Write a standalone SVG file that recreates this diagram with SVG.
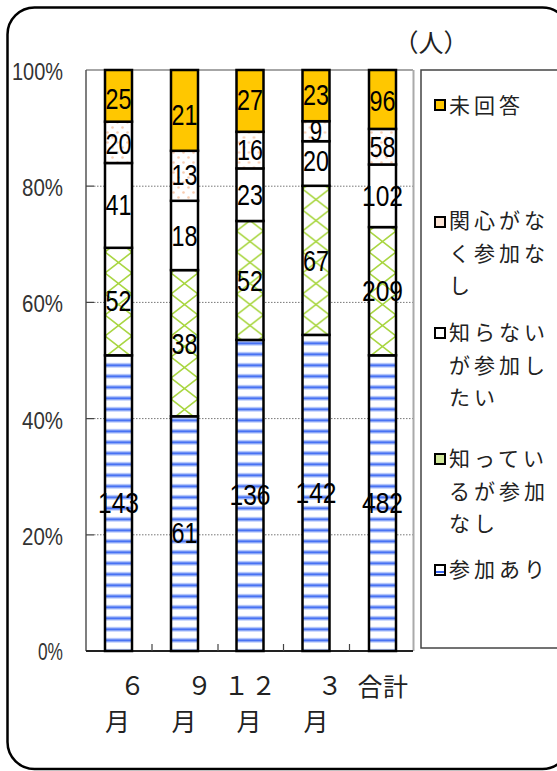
<svg xmlns="http://www.w3.org/2000/svg" width="557" height="771" viewBox="0 0 557 771">
<style>
.seg{stroke:#000;stroke-width:2.5}
.val{font-family:"Liberation Sans",Arial,sans-serif;font-size:29px;fill:#000;text-anchor:middle}
.ax{font-family:"Liberation Sans",Arial,sans-serif;font-size:23px;fill:#333;text-anchor:end}
.cat{font-family:"Noto Sans CJK JP","Noto Sans CJK SC",sans-serif;font-size:25px;fill:#222;text-anchor:middle}
.lg{font-family:"Noto Sans CJK JP","Noto Sans CJK SC",sans-serif;font-size:21px;fill:#222;letter-spacing:4px}
.grid{stroke:#777;stroke-width:1;stroke-dasharray:1.5,1.5}
.mk{stroke:#000;stroke-width:2}
</style>
<defs>
<pattern id="stripes" patternUnits="userSpaceOnUse" x="0" y="7.8" width="10" height="11">
<rect width="10" height="11" fill="#fff"/>
<rect y="3" width="10" height="5" fill="#C3D2FB"/>
<rect y="4.5" width="10" height="2" fill="#3A67F2"/>
</pattern>
<pattern id="cross" patternUnits="userSpaceOnUse" x="0" y="0" width="27" height="21">
<rect width="27" height="21" fill="#fff"/>
<path d="M-27,-21 L54,42 M0,-21 L54,21 M-27,0 L27,42 M54,-21 L-27,42 M27,-21 L-27,21 M54,0 L0,42" stroke="#A9D642" stroke-width="1.6" fill="none"/>
</pattern>
<pattern id="dots" patternUnits="userSpaceOnUse" x="0" y="0" width="10" height="10">
<rect width="10" height="10" fill="#fff"/>
<circle cx="2.5" cy="2.5" r="1.3" fill="#F9CDB0"/>
<circle cx="7.5" cy="7.5" r="1.3" fill="#F9CDB0"/>
</pattern>
</defs>

<g id="frame">
<rect x="7.5" y="7.5" width="562" height="761.5" rx="27" ry="27" fill="#fff" stroke="#000" stroke-width="2.5"/>
</g>

<g id="plot-area">
<line class="grid" x1="94" y1="186.2" x2="413" y2="186.2"/>
<line class="grid" x1="94" y1="302.4" x2="413" y2="302.4"/>
<line class="grid" x1="94" y1="418.6" x2="413" y2="418.6"/>
<line class="grid" x1="94" y1="534.8" x2="413" y2="534.8"/>
<line x1="86" y1="70" x2="413" y2="70" stroke="#888" stroke-width="1.5"/>
<line x1="413.5" y1="70" x2="413.5" y2="651" stroke="#aaa" stroke-width="2"/>
<line x1="86" y1="70" x2="86" y2="651" stroke="#555" stroke-width="1.5"/>
<path d="M86,186.2 H94 M86,302.4 H94 M86,418.6 H94 M86,534.8 H94" stroke="#444" stroke-width="1.2"/>
<line x1="86" y1="651" x2="413" y2="651" stroke="#222" stroke-width="1.8"/>
<path d="M152,644 V651 M218,644 V651 M283.5,644 V651 M349.5,644 V651" stroke="#444" stroke-width="1.2"/>
</g>

<g id="axis-labels">
<text class="ax" x="63" y="80" textLength="51" lengthAdjust="spacingAndGlyphs">100%</text>
<text class="ax" x="63" y="196" textLength="41" lengthAdjust="spacingAndGlyphs">80%</text>
<text class="ax" x="63" y="312.4" textLength="41" lengthAdjust="spacingAndGlyphs">60%</text>
<text class="ax" x="63" y="428.6" textLength="41" lengthAdjust="spacingAndGlyphs">40%</text>
<text class="ax" x="63" y="544.8" textLength="41" lengthAdjust="spacingAndGlyphs">20%</text>
<text class="ax" x="63" y="660" textLength="25" lengthAdjust="spacingAndGlyphs">0%</text>
<text class="cat" x="431" y="52">（人）</text>
</g>

<g id="bar-6">
<g transform="translate(105,0)">
<rect class="seg" x="0" y="355.3" width="27" height="295.7" fill="url(#stripes)"/>
<rect class="seg" x="0" y="247.8" width="27" height="107.5" fill="url(#cross)"/>
<rect class="seg" x="0" y="163" width="27" height="84.8" fill="#fff"/>
<rect class="seg" x="0" y="121.7" width="27" height="41.3" fill="url(#dots)"/>
<rect class="seg" x="0" y="70" width="27" height="51.7" fill="#FFC700"/>
</g>
<text class="val" x="118.5" y="513" textLength="41" lengthAdjust="spacingAndGlyphs">143</text>
<text class="val" x="118.5" y="311" textLength="26" lengthAdjust="spacingAndGlyphs">52</text>
<text class="val" x="118.5" y="215" textLength="26" lengthAdjust="spacingAndGlyphs">41</text>
<text class="val" x="118.5" y="154" textLength="26" lengthAdjust="spacingAndGlyphs">20</text>
<text class="val" x="118.5" y="109" textLength="26" lengthAdjust="spacingAndGlyphs">25</text>
<text class="cat" x="132.5" y="695">６</text>
<text class="cat" x="117.5" y="731">月</text>
</g>

<g id="bar-9">
<g transform="translate(171,0)">
<rect class="seg" x="0" y="416.3" width="27" height="234.7" fill="url(#stripes)"/>
<rect class="seg" x="0" y="270.1" width="27" height="146.2" fill="url(#cross)"/>
<rect class="seg" x="0" y="200.8" width="27" height="69.3" fill="#fff"/>
<rect class="seg" x="0" y="150.8" width="27" height="50" fill="url(#dots)"/>
<rect class="seg" x="0" y="70" width="27" height="80.8" fill="#FFC700"/>
</g>
<text class="val" x="184.5" y="543" textLength="26" lengthAdjust="spacingAndGlyphs">61</text>
<text class="val" x="184.5" y="354" textLength="26" lengthAdjust="spacingAndGlyphs">38</text>
<text class="val" x="184.5" y="245.5" textLength="26" lengthAdjust="spacingAndGlyphs">18</text>
<text class="val" x="184.5" y="185" textLength="26" lengthAdjust="spacingAndGlyphs">13</text>
<text class="val" x="184.5" y="125" textLength="26" lengthAdjust="spacingAndGlyphs">21</text>
<text class="cat" x="199.5" y="695">９</text>
<text class="cat" x="184" y="731">月</text>
</g>

<g id="bar-12">
<g transform="translate(236.5,0)">
<rect class="seg" x="0" y="339.9" width="27" height="311.1" fill="url(#stripes)"/>
<rect class="seg" x="0" y="221" width="27" height="118.9" fill="url(#cross)"/>
<rect class="seg" x="0" y="168.4" width="27" height="52.6" fill="#fff"/>
<rect class="seg" x="0" y="131.8" width="27" height="36.6" fill="url(#dots)"/>
<rect class="seg" x="0" y="70" width="27" height="61.8" fill="#FFC700"/>
</g>
<text class="val" x="250" y="505" textLength="41" lengthAdjust="spacingAndGlyphs">136</text>
<text class="val" x="250" y="290.5" textLength="26" lengthAdjust="spacingAndGlyphs">52</text>
<text class="val" x="250" y="205" textLength="26" lengthAdjust="spacingAndGlyphs">23</text>
<text class="val" x="250" y="160" textLength="26" lengthAdjust="spacingAndGlyphs">16</text>
<text class="val" x="250" y="110" textLength="26" lengthAdjust="spacingAndGlyphs">27</text>
<text class="cat" x="236.5" y="695">１</text>
<text class="cat" x="263.5" y="695">２</text>
<text class="cat" x="249" y="731">月</text>
</g>

<g id="bar-3">
<g transform="translate(302.5,0)">
<rect class="seg" x="0" y="334.9" width="27" height="316.1" fill="url(#stripes)"/>
<rect class="seg" x="0" y="185.8" width="27" height="149.1" fill="url(#cross)"/>
<rect class="seg" x="0" y="141.2" width="27" height="44.6" fill="#fff"/>
<rect class="seg" x="0" y="121.2" width="27" height="20" fill="url(#dots)"/>
<rect class="seg" x="0" y="70" width="27" height="51.2" fill="#FFC700"/>
</g>
<text class="val" x="316" y="503" textLength="41" lengthAdjust="spacingAndGlyphs">142</text>
<text class="val" x="316" y="271" textLength="26" lengthAdjust="spacingAndGlyphs">67</text>
<text class="val" x="316" y="171" textLength="26" lengthAdjust="spacingAndGlyphs">20</text>
<text class="val" x="316" y="141" textLength="12.5" lengthAdjust="spacingAndGlyphs">9</text>
<text class="val" x="316" y="105" textLength="26" lengthAdjust="spacingAndGlyphs">23</text>
<text class="cat" x="330" y="695">３</text>
<text class="cat" x="316" y="731">月</text>
</g>

<g id="bar-total">
<g transform="translate(369,0)">
<rect class="seg" x="0" y="355.3" width="27" height="295.7" fill="url(#stripes)"/>
<rect class="seg" x="0" y="227.1" width="27" height="128.2" fill="url(#cross)"/>
<rect class="seg" x="0" y="164.5" width="27" height="62.6" fill="#fff"/>
<rect class="seg" x="0" y="128.9" width="27" height="35.6" fill="url(#dots)"/>
<rect class="seg" x="0" y="70" width="27" height="58.9" fill="#FFC700"/>
</g>
<text class="val" x="382.5" y="513" textLength="41" lengthAdjust="spacingAndGlyphs">482</text>
<text class="val" x="382.5" y="301" textLength="41" lengthAdjust="spacingAndGlyphs">209</text>
<text class="val" x="382.5" y="206" textLength="41" lengthAdjust="spacingAndGlyphs">102</text>
<text class="val" x="382.5" y="157" textLength="26" lengthAdjust="spacingAndGlyphs">58</text>
<text class="val" x="382.5" y="111" textLength="26" lengthAdjust="spacingAndGlyphs">96</text>
<text class="cat" x="370" y="696">合</text>
<text class="cat" x="395.5" y="696">計</text>
</g>

<g id="legend">
<rect x="421" y="70" width="160" height="578" fill="#fff" stroke="#444" stroke-width="1.5"/>
<g id="legend-noanswer">
<rect class="mk" x="435" y="100" width="10" height="10" fill="#FFC700"/>
<text class="lg" x="449" y="113">未回答</text>
</g>
<g id="legend-nointerest">
<rect class="mk" x="435" y="217" width="10" height="10" fill="#FCE4D6"/>
<text class="lg" x="449" y="228">関心がな</text>
<text class="lg" x="449" y="260.5">く参加な</text>
<text class="lg" x="449" y="293">し</text>
</g>
<g id="legend-wantjoin">
<rect class="mk" x="435" y="328" width="10" height="10" fill="#fff"/>
<text class="lg" x="449" y="340">知らない</text>
<text class="lg" x="449" y="372.5">が参加し</text>
<text class="lg" x="449" y="405">たい</text>
</g>
<g id="legend-knownojoin">
<rect class="mk" x="435" y="454" width="10" height="10" fill="#D2E89A"/>
<text class="lg" x="449" y="466">知ってい</text>
<text class="lg" x="449" y="498.5">るが参加</text>
<text class="lg" x="449" y="531">なし</text>
</g>
<g id="legend-joined">
<rect class="mk" x="435" y="565" width="10" height="10" fill="#fff"/>
<line x1="436" y1="572" x2="444" y2="572" stroke="#3A67F2" stroke-width="2"/>
<text class="lg" x="449" y="577">参加あり</text>
</g>
</g>

<g id="connectors"></g>
</svg>
